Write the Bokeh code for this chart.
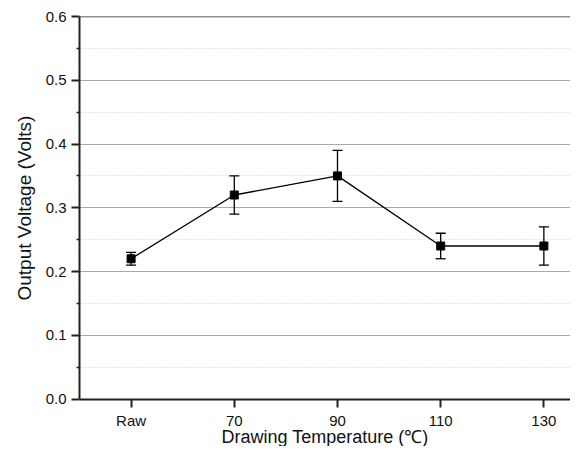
from bokeh.plotting import figure
from bokeh.models import (ColumnDataSource, Whisker, TeeHead, FixedTicker, Span, Range1d,
                          LinearAxis, Title)
from bokeh.embed import file_html
from bokeh.resources import INLINE

categories = ["Raw", "70", "90", "110", "130"]
voltage = [0.22, 0.32, 0.35, 0.24, 0.24]
err_upper = [0.23, 0.35, 0.39, 0.26, 0.27]
err_lower = [0.21, 0.29, 0.31, 0.22, 0.21]
y_ticks = [0.0, 0.1, 0.2, 0.3, 0.4, 0.5, 0.6]
x_title = "Drawing Temperature (\u2103)"
y_title = "Output Voltage (Volts)"

xs = list(range(1, len(categories) + 1))
src = ColumnDataSource(dict(x=xs, y=voltage, upper=err_upper, lower=err_lower))

FONT = "Liberation Sans"

p = figure(width=570, height=446, output_backend="svg", toolbar_location=None,
           x_range=Range1d(0.5, 5.258), y_range=Range1d(-0.0745, 0.6),
           x_axis_location=None,
           min_border_left=79, min_border_top=16, min_border_right=0, min_border_bottom=0)
p.outline_line_color = None
p.background_fill_color = "white"

p.line("x", "y", source=src, line_color="black", line_width=1.3)
w = Whisker(base="x", upper="upper", lower="lower", source=src,
            line_color="black", line_width=1.3,
            upper_head=TeeHead(size=10, line_color="black", line_width=1.3),
            lower_head=TeeHead(size=10, line_color="black", line_width=1.3))
p.add_layout(w)
p.scatter("x", "y", source=src, marker="square", size=8, fill_color="black", line_color="black")

p.add_layout(Span(location=0.6, dimension="width", line_color="#222222", line_width=1.5))

# x axis drawn at y = 0
xaxis = LinearAxis(fixed_location=0, ticker=FixedTicker(ticks=xs),
                   major_label_overrides={x: c for x, c in zip(xs, categories)},
                   axis_label=x_title, axis_label_standoff=-6)
p.add_layout(xaxis, "below")

# y axis
p.yaxis.ticker = FixedTicker(ticks=y_ticks,
                             minor_ticks=[round(t + 0.05, 2) for t in y_ticks[:-1]])
p.yaxis.major_label_overrides = {t: f"{t:.1f}" for t in y_ticks}
p.yaxis.bounds = (0, 0.6)
p.yaxis.minor_tick_in = 0
p.yaxis.minor_tick_out = 3

ytitle = Title(text=y_title, align="left", offset=146, text_font=FONT,
               text_font_size="19px", text_font_style="normal", text_color="#111111")
if "standoff" in ytitle.properties():
    ytitle.standoff = 16
p.add_layout(ytitle, "left")

for ax in (xaxis, p.yaxis[0]):
    ax.axis_line_color = "#222222"
    ax.axis_line_width = 2
    ax.major_tick_line_color = "#222222"
    ax.major_tick_line_width = 2
    ax.major_tick_in = 0
    ax.major_tick_out = 8
    ax.minor_tick_line_color = "#222222" if ax is not xaxis else None
    ax.minor_tick_line_width = 1.5
    ax.major_label_text_font = FONT
    ax.major_label_text_font_size = "15px"
    ax.major_label_text_color = "#111111"
    ax.major_label_standoff = 5
    ax.axis_label_text_font = FONT
    ax.axis_label_text_font_size = "18px"
    ax.axis_label_text_font_style = "normal"
    ax.axis_label_text_color = "#111111"

p.xgrid.grid_line_color = None
p.ygrid.grid_line_color = "#aaaaaa"
p.ygrid.grid_line_width = 1.2
p.ygrid.minor_grid_line_color = "#cccccc"
p.ygrid.minor_grid_line_dash = "1 2"

open("out.html", "w").write(file_html(p, INLINE))
